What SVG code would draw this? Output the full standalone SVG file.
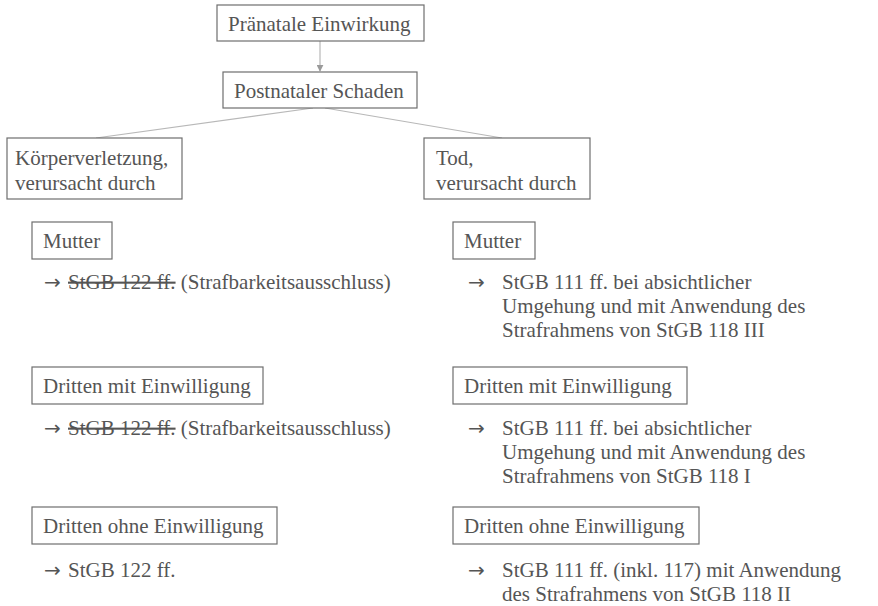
<svg xmlns="http://www.w3.org/2000/svg" width="878" height="606" viewBox="0 0 878 606">
<defs>
<style>
.box{fill:#ffffff;stroke:#6e6e6e;stroke-width:1.2}
.t{font-family:"Liberation Serif","Times New Roman",serif;font-size:21px;fill:#555555}
.ar{font-family:"DejaVu Sans",sans-serif;font-size:20px;fill:#555555}
.con{stroke:#b8b8b8;stroke-width:1.2;fill:none}
</style>
<marker id="ah" viewBox="0 0 10 10" refX="9" refY="5" markerWidth="7" markerHeight="7" markerUnits="userSpaceOnUse" orient="auto">
<path d="M0,0 L10,5 L0,10 z" fill="#9a9a9a"/>
</marker>
</defs>
<rect width="878" height="606" fill="#ffffff"/>
<g id="connectors">
<line class="con" x1="320" y1="41" x2="320" y2="71" marker-end="url(#ah)"/>
<line class="con" x1="313" y1="108" x2="96" y2="138"/>
<line class="con" x1="325" y1="108" x2="502" y2="138"/>
</g>
<g id="n-praenatal">
<rect class="box" x="217" y="5" width="207" height="36"/>
<text class="t" x="228" y="31">Pränatale Einwirkung</text>
</g>
<g id="n-postnatal">
<rect class="box" x="223" y="72" width="194" height="36"/>
<text class="t" x="234" y="98">Postnataler Schaden</text>
</g>
<g id="n-koerper">
<rect class="box" x="7" y="138" width="175" height="61"/>
<text class="t" x="15" y="165">Körperverletzung,</text>
<text class="t" x="15" y="190">verursacht durch</text>
</g>
<g id="n-tod">
<rect class="box" x="424" y="138" width="166" height="61"/>
<text class="t" x="436" y="165">Tod,</text>
<text class="t" x="436" y="190">verursacht durch</text>
</g>
<g id="n-l-mutter">
<rect class="box" x="32" y="222" width="80" height="37"/>
<text class="t" x="43" y="248">Mutter</text>
</g>
<g id="l-mutter-result">
<text class="ar" x="44" y="289">→</text>
<text class="t" x="68" y="289"><tspan text-decoration="line-through">StGB 122 ff.</tspan> (Strafbarkeitsausschluss)</text>
</g>
<g id="n-r-mutter">
<rect class="box" x="453" y="222" width="82" height="37"/>
<text class="t" x="464" y="248">Mutter</text>
</g>
<g id="r-mutter-result">
<text class="ar" x="468" y="289">→</text>
<text class="t" x="502" y="289">StGB 111 ff. bei absichtlicher</text>
<text class="t" x="502" y="313">Umgehung und mit Anwendung des</text>
<text class="t" x="502" y="337">Strafrahmens von StGB 118 III</text>
</g>
<g id="n-l-mit">
<rect class="box" x="32" y="367" width="231" height="37"/>
<text class="t" x="43" y="393">Dritten mit Einwilligung</text>
</g>
<g id="l-mit-result">
<text class="ar" x="44" y="435">→</text>
<text class="t" x="68" y="435"><tspan text-decoration="line-through">StGB 122 ff.</tspan> (Strafbarkeitsausschluss)</text>
</g>
<g id="n-r-mit">
<rect class="box" x="453" y="367" width="234" height="37"/>
<text class="t" x="464" y="393">Dritten mit Einwilligung</text>
</g>
<g id="r-mit-result">
<text class="ar" x="468" y="435">→</text>
<text class="t" x="502" y="435">StGB 111 ff. bei absichtlicher</text>
<text class="t" x="502" y="459">Umgehung und mit Anwendung des</text>
<text class="t" x="502" y="483">Strafrahmens von StGB 118 I</text>
</g>
<g id="n-l-ohne">
<rect class="box" x="32" y="507" width="245" height="37"/>
<text class="t" x="43" y="533">Dritten ohne Einwilligung</text>
</g>
<g id="l-ohne-result">
<text class="ar" x="44" y="577">→</text>
<text class="t" x="68" y="577">StGB 122 ff.</text>
</g>
<g id="n-r-ohne">
<rect class="box" x="453" y="507" width="246" height="37"/>
<text class="t" x="464" y="533">Dritten ohne Einwilligung</text>
</g>
<g id="r-ohne-result">
<text class="ar" x="468" y="577">→</text>
<text class="t" x="502" y="577">StGB 111 ff. (inkl. 117) mit Anwendung</text>
<text class="t" x="502" y="601">des Strafrahmens von StGB 118 II</text>
</g>
</svg>
